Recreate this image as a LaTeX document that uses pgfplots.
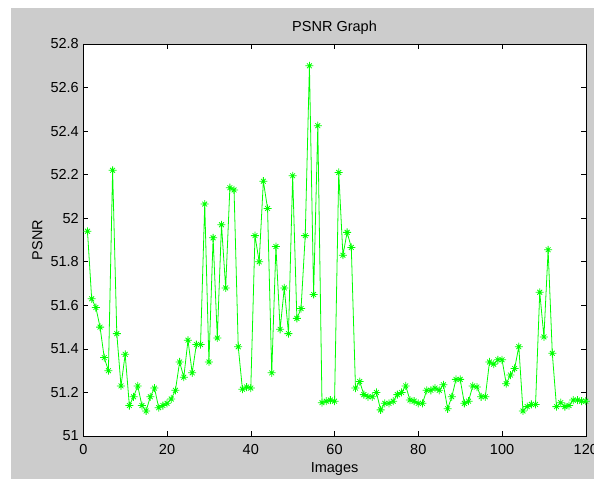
\documentclass[border=0pt]{standalone}
\usepackage{pgfplots}
\pgfplotsset{compat=1.18}
\usepackage{fontspec}
\setmainfont{Liberation Sans}
\definecolor{figgray}{gray}{0.8}
\definecolor{lgreen}{rgb}{0,1,0}
% MATLAB-style '*' marker: plus and cross
\pgfdeclareplotmark{mstar}{%
  \pgfpathmoveto{\pgfqpoint{-\pgfplotmarksize}{0pt}}\pgfpathlineto{\pgfqpoint{\pgfplotmarksize}{0pt}}%
  \pgfpathmoveto{\pgfqpoint{0pt}{-\pgfplotmarksize}}\pgfpathlineto{\pgfqpoint{0pt}{\pgfplotmarksize}}%
  \pgfpathmoveto{\pgfqpoint{-0.6\pgfplotmarksize}{-0.6\pgfplotmarksize}}\pgfpathlineto{\pgfqpoint{0.6\pgfplotmarksize}{0.6\pgfplotmarksize}}%
  \pgfpathmoveto{\pgfqpoint{-0.6\pgfplotmarksize}{0.6\pgfplotmarksize}}\pgfpathlineto{\pgfqpoint{0.6\pgfplotmarksize}{-0.6\pgfplotmarksize}}%
  \pgfusepathqstroke}
\begin{document}
\begin{tikzpicture}
\useasboundingbox (0,0) rectangle (594pt,479pt);
\fill[white] (0,0) rectangle (594pt,479pt);
\fill[figgray] (11pt,0) rectangle (594pt,471pt);
\begin{axis}[
    scale only axis,
    width=502.5pt, height=392pt,
    at={(83.3pt,43pt)}, anchor=south west,
    axis background/.style={fill=white},
    font=\fontsize{14.5}{17}\selectfont,
    xmin=0, xmax=120, ymin=51, ymax=52.8,
    xtick={0,20,40,60,80,100,120},
    ytick={51,51.2,51.4,51.6,51.8,52,52.2,52.4,52.6,52.8},
    yticklabels={51,51.2,51.4,51.6,51.8,52,52.2,52.4,52.6,52.8},
    /pgf/number format/assume math mode=true,
    tick align=inside, major tick length=5pt,
    xtick pos=both, ytick pos=both,
    xticklabel pos=left, yticklabel pos=left,
    tick style={black, line width=0.6pt},
    axis line style={black, line width=0.6pt},
    xticklabel style={anchor=base, yshift=-18pt},
    yticklabel style={anchor=east, xshift=-1pt},
    title={PSNR Graph},
    title style={at={(0.5,1.031)}, anchor=base, yshift=-6pt},
    xlabel={Images},
    xlabel style={at={(0.5,-0.094)}, anchor=base},
    ylabel={PSNR},
    ylabel style={at={(-0.0915,0.5)}, anchor=center},
]
\addplot[color=lgreen, line width=0.8pt, mark=mstar, mark size=4pt,
         mark options={line width=0.8pt}]
coordinates {
(1,51.94) (2,51.63) (3,51.59) (4,51.50) (5,51.36) (6,51.30) (7,52.22) (8,51.47)
(9,51.23) (10,51.375) (11,51.14) (12,51.18) (13,51.23) (14,51.14) (15,51.115)
(16,51.18) (17,51.22) (18,51.13) (19,51.14) (20,51.15) (21,51.17) (22,51.21)
(23,51.34) (24,51.27) (25,51.44) (26,51.29) (27,51.42) (28,51.42) (29,52.065)
(30,51.34) (31,51.91) (32,51.45) (33,51.97) (34,51.68) (35,52.14) (36,52.13)
(37,51.41) (38,51.215) (39,51.225) (40,51.22) (41,51.92) (42,51.80) (43,52.17)
(44,52.045) (45,51.29) (46,51.87) (47,51.49) (48,51.68) (49,51.47) (50,52.195)
(51,51.54) (52,51.585) (53,51.92) (54,52.70) (55,51.65) (56,52.425) (57,51.153)
(58,51.16) (59,51.165) (60,51.16) (61,52.21) (62,51.83) (63,51.935) (64,51.866)
(65,51.22) (66,51.25) (67,51.19) (68,51.18) (69,51.18) (70,51.20) (71,51.12)
(72,51.15) (73,51.15) (74,51.16) (75,51.19) (76,51.20) (77,51.23) (78,51.165)
(79,51.16) (80,51.15) (81,51.15) (82,51.21) (83,51.21) (84,51.22) (85,51.21)
(86,51.235) (87,51.125) (88,51.18) (89,51.26) (90,51.26) (91,51.15) (92,51.16)
(93,51.23) (94,51.225) (95,51.18) (96,51.18) (97,51.34) (98,51.33) (99,51.35)
(100,51.35) (101,51.24) (102,51.28) (103,51.31) (104,51.41) (105,51.115)
(106,51.135) (107,51.145) (108,51.145) (109,51.66) (110,51.455) (111,51.855)
(112,51.38) (113,51.135) (114,51.153) (115,51.135) (116,51.14) (117,51.165)
(118,51.165) (119,51.16) (120,51.16)
};
\end{axis}
\end{tikzpicture}
\end{document}
